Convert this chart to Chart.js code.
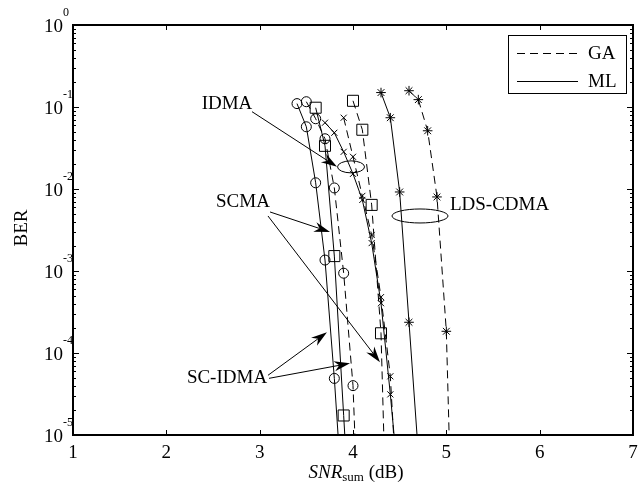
<!DOCTYPE html>
<html><head><meta charset="utf-8">
<script src="https://cdn.jsdelivr.net/npm/chart.js@4.4.0/dist/chart.umd.min.js"></script>
<style>html,body{margin:0;padding:0;background:#fff;}#wrap{width:644px;height:485px;}</style>
</head><body><div id="wrap"><canvas id="c" width="644" height="485"></canvas></div>
<script>
// ---- data ----
const BER_FLOOR = 1e-5;
const xTickValues = [1, 2, 3, 4, 5, 6, 7];
const xTickLabels = ['1', '2', '3', '4', '5', '6', '7'];
const yDecades = [0, -1, -2, -3, -4, -5];
const legendLabels = ['GA', 'ML'];

const snrScIdmaML = [3.4, 3.5, 3.6, 3.7, 3.8, 3.84];
const berScIdmaML = [0.110, 0.0574, 0.0119, 0.00136, 4.9e-5, 1e-5];
const snrScIdmaGA = [3.5, 3.6, 3.7, 3.8, 3.9, 4.0, 4.02];
const berScIdmaGA = [0.116, 0.0719, 0.0410, 0.0103, 9.4e-4, 4.0e-5, 1e-5];
const snrScmaML = [3.6, 3.7, 3.8, 3.9, 3.912];
const berScmaML = [0.098, 0.0336, 0.00152, 1.73e-5, 1e-5];
const snrScmaGA = [4.0, 4.1, 4.2, 4.3, 4.33];
const berScmaGA = [0.119, 0.0528, 0.0064, 1.74e-4, 1e-5];
const snrIdmaML = [3.7, 3.8, 3.9, 4.0, 4.1, 4.2, 4.3, 4.4, 4.44];
const berIdmaML = [0.0643, 0.0485, 0.0284, 0.0153, 0.00736, 0.00219, 4.05e-4, 3.13e-5, 1e-5];
const snrIdmaGA = [3.9, 4.0, 4.1, 4.2, 4.3, 4.4, 4.435];
const berIdmaGA = [0.074, 0.0247, 0.00824, 0.00275, 4.8e-4, 5.2e-5, 1e-5];
const snrLdsML = [4.3, 4.4, 4.5, 4.6, 4.686];
const berLdsML = [0.150, 0.074, 0.0092, 2.37e-4, 1e-5];
const snrLdsGA = [4.6, 4.7, 4.8, 4.9, 5.0, 5.03];
const berLdsGA = [0.158, 0.123, 0.0513, 0.008, 1.84e-4, 1e-5];

// annotation anchors in data units (x: dB, y: log10 BER)
const annoLabels = [
  {text: 'IDMA', x: 2.650, ly: -0.960, align: 'center'},
  {text: 'SCMA', x: 2.821, ly: -2.158, align: 'center'},
  {text: 'SC-IDMA', x: 2.650, ly: -4.309, align: 'center'},
  {text: 'LDS-CDMA', x: 5.039, ly: -2.194, align: 'left'}
];
const annoArrows = [
  [2.918, -1.057, 3.829, -1.730],
  [3.111, -2.280, 3.754, -2.524],
  [3.089, -2.329, 4.289, -4.113],
  [3.089, -4.272, 3.721, -3.747],
  [3.100, -4.309, 3.968, -4.126]
];
const annoEllipses = [
  [3.979, -1.730, 13.5, 6],
  [4.718, -2.329, 28, 7]
];

const SERIF = '"Liberation Serif", "Times New Roman", serif';
const DASH = [8, 5];

function mkSet(snr, ber, dashed, style, radius) {
  return {
    data: snr.map((x, i) => ({x: x, y: ber[i]})),
    showLine: true,
    borderColor: '#000',
    borderWidth: 1,
    borderDash: dashed ? DASH : [],
    pointStyle: style,
    pointRadius: (ctx) => (ctx.raw && ctx.raw.y <= BER_FLOOR) ? 0 : radius,
    pointHoverRadius: 0,
    pointBorderColor: '#000',
    pointBackgroundColor: 'rgba(0,0,0,0)',
    pointBorderWidth: 1,
    tension: 0
  };
}

const datasets = [
  mkSet(snrScIdmaML, berScIdmaML, false, 'circle', 5),
  mkSet(snrScIdmaGA, berScIdmaGA, true, 'circle', 5),
  mkSet(snrScmaML, berScmaML, false, 'rect', 7.8),
  mkSet(snrScmaGA, berScmaGA, true, 'rect', 7.8),
  mkSet(snrIdmaML, berIdmaML, false, 'crossRot', 4.3),
  mkSet(snrIdmaGA, berIdmaGA, true, 'crossRot', 4.3),
  mkSet(snrLdsML, berLdsML, false, 'star', 4.8),
  mkSet(snrLdsGA, berLdsGA, true, 'star', 4.8)
];

const axisCommon = {
  ticks: {display: false},
  grid: {display: false, drawTicks: false},
  border: {display: true, color: '#000', width: 2}
};

function drawArrow(ctx, x1, y1, x2, y2) {
  const ang = Math.atan2(y2 - y1, x2 - x1);
  const L = 16, W = 5, N = 11;
  const c = Math.cos(ang), s = Math.sin(ang);
  const bx = x2 - L * c, by = y2 - L * s;
  const nx = x2 - N * c, ny = y2 - N * s;
  ctx.beginPath();
  ctx.moveTo(x1, y1);
  ctx.lineTo(nx, ny);
  ctx.stroke();
  ctx.beginPath();
  ctx.moveTo(x2, y2);
  ctx.lineTo(bx - W * s, by + W * c);
  ctx.lineTo(nx, ny);
  ctx.lineTo(bx + W * s, by - W * c);
  ctx.closePath();
  ctx.fill();
}

const decor = {
  id: 'decor',
  afterDraw(chart) {
    const ctx = chart.ctx;
    const xs = chart.scales.x, ys = chart.scales.y;
    const a = chart.chartArea;
    const PX = v => xs.getPixelForValue(v);
    const PY = l => ys.getPixelForValue(Math.pow(10, l));
    ctx.save();
    ctx.strokeStyle = '#000';
    ctx.fillStyle = '#000';
    ctx.lineWidth = 1;
    // x ticks (inward, bottom and top)
    ctx.beginPath();
    xTickValues.forEach(v => {
      const p = Math.round(PX(v)) + 0.5;
      ctx.moveTo(p, a.bottom); ctx.lineTo(p, a.bottom - 5);
      ctx.moveTo(p, a.top); ctx.lineTo(p, a.top + 5);
    });
    // y ticks major + minor (left and right)
    yDecades.forEach(d => {
      const p = Math.round(PY(d)) + 0.5;
      ctx.moveTo(a.left, p); ctx.lineTo(a.left + 6, p);
      ctx.moveTo(a.right, p); ctx.lineTo(a.right - 6, p);
      if (d > -5) {
        for (let m = 2; m <= 9; m++) {
          const q = Math.round(ys.getPixelForValue(m * Math.pow(10, d - 1))) + 0.5;
          ctx.moveTo(a.left, q); ctx.lineTo(a.left + 3, q);
          ctx.moveTo(a.right, q); ctx.lineTo(a.right - 3, q);
        }
      }
    });
    ctx.stroke();
    // x tick labels
    ctx.font = '19px ' + SERIF;
    ctx.textAlign = 'center';
    ctx.textBaseline = 'middle';
    xTickValues.forEach((v, i) => ctx.fillText(xTickLabels[i], PX(v), a.bottom + 18));
    // y tick labels 10^d
    yDecades.forEach(d => {
      const p = PY(d);
      ctx.font = '19px ' + SERIF;
      ctx.textAlign = 'right';
      ctx.textBaseline = 'middle';
      ctx.fillText('10', 63, p + 2);
      ctx.font = '12px ' + SERIF;
      ctx.textAlign = 'left';
      ctx.fillText(String(d), 63, p - 12);
    });
    // axis titles
    ctx.textBaseline = 'alphabetic';
    ctx.textAlign = 'left';
    const f1 = 'italic 19px ' + SERIF, f2 = '13px ' + SERIF, f3 = '19px ' + SERIF;
    ctx.font = f1; const w1 = ctx.measureText('SNR').width;
    ctx.font = f2; const w2 = ctx.measureText('sum').width;
    ctx.font = f3; const w3 = ctx.measureText(' (dB)').width;
    let tx = 356 - (w1 + w2 + w3) / 2;
    const tb = 478;
    ctx.font = f1; ctx.fillText('SNR', tx, tb); tx += w1;
    ctx.font = f2; ctx.fillText('sum', tx, tb + 3); tx += w2;
    ctx.font = f3; ctx.fillText(' (dB)', tx, tb);
    ctx.save();
    ctx.translate(22, 228);
    ctx.rotate(-Math.PI / 2);
    ctx.textAlign = 'center';
    ctx.textBaseline = 'middle';
    ctx.font = '19px ' + SERIF;
    ctx.fillText('BER', 0, 0);
    ctx.restore();
    // annotations
    ctx.font = '19px ' + SERIF;
    ctx.textBaseline = 'middle';
    annoLabels.forEach(t => {
      ctx.textAlign = t.align;
      ctx.fillText(t.text, PX(t.x), PY(t.ly));
    });
    ctx.lineWidth = 1;
    annoArrows.forEach(r => drawArrow(ctx, PX(r[0]), PY(r[1]), PX(r[2]), PY(r[3])));
    annoEllipses.forEach(e => {
      ctx.beginPath();
      ctx.ellipse(PX(e[0]), PY(e[1]), e[2], e[3], 0, 0, Math.PI * 2);
      ctx.stroke();
    });
    // legend
    const lx = 508.5, ly = 35.5, lw = 118, lh = 58;
    ctx.fillStyle = '#fff';
    ctx.fillRect(lx, ly, lw, lh);
    ctx.strokeStyle = '#000';
    ctx.lineWidth = 1;
    ctx.strokeRect(lx, ly, lw, lh);
    ctx.fillStyle = '#000';
    ctx.beginPath();
    ctx.setLineDash(DASH);
    ctx.moveTo(517, 53.5); ctx.lineTo(578, 53.5);
    ctx.stroke();
    ctx.setLineDash([]);
    ctx.beginPath();
    ctx.moveTo(517, 81.5); ctx.lineTo(578, 81.5);
    ctx.stroke();
    ctx.font = '19px ' + SERIF;
    ctx.textAlign = 'left';
    ctx.textBaseline = 'middle';
    ctx.fillText(legendLabels[0], 588, 54);
    ctx.fillText(legendLabels[1], 588, 82);
    ctx.restore();
  }
};

new Chart(document.getElementById('c'), {
  type: 'scatter',
  data: {datasets: datasets},
  options: {
    responsive: false,
    animation: false,
    events: [],
    layout: {padding: {left: 73, top: 25, right: 11, bottom: 50}},
    plugins: {legend: {display: false}, tooltip: {enabled: false}},
    scales: {
      x: Object.assign({type: 'linear', min: 1, max: 7, position: 'bottom'}, axisCommon),
      x2: Object.assign({type: 'linear', min: 1, max: 7, position: 'top'}, axisCommon),
      y: Object.assign({type: 'logarithmic', min: 1e-5, max: 1, position: 'left'}, axisCommon),
      y2: Object.assign({type: 'logarithmic', min: 1e-5, max: 1, position: 'right'}, axisCommon)
    }
  },
  plugins: [decor]
});
</script>
</body></html>
